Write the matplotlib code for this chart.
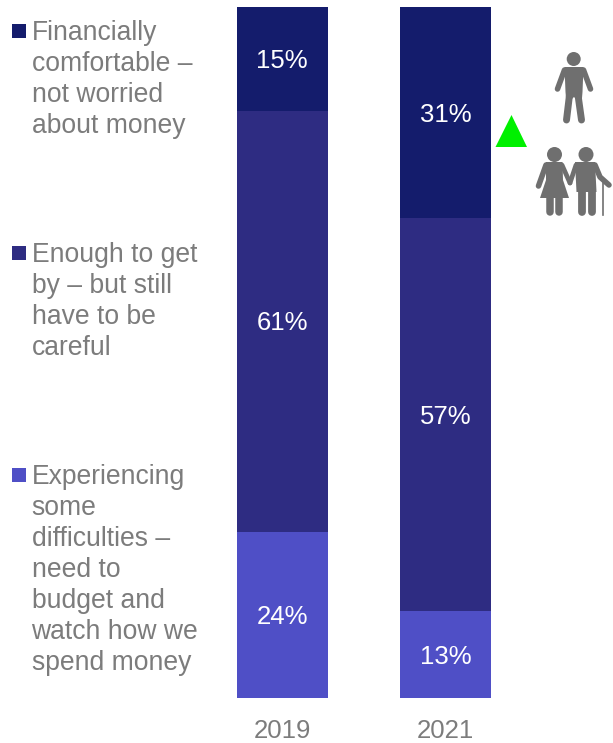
import matplotlib
matplotlib.use("Agg")
from matplotlib import pyplot as plt
from matplotlib.patches import Circle, Polygon, Rectangle

plt.rcParams['font.family'] = ['Liberation Sans', 'DejaVu Sans']

W, H = 613, 743
GREY = "#7c7c7c"
ICON = "#6f6f6f"

years = ["2019", "2021"]
comfortable = [15, 30.6]
enough = [61, 56.8]
difficulties = [24, 12.6]
comfortable_lab = ["15%", "31%"]
enough_lab = ["61%", "57%"]
difficulties_lab = ["24%", "13%"]
colors = ["#141c6c", "#2e2c82", "#4f4fc6"]
legend_text = ["Financially\ncomfortable –\nnot worried\nabout money",
               "Enough to get\nby – but still\nhave to be\ncareful",
               "Experiencing\nsome\ndifficulties –\nneed to\nbudget and\nwatch how we\nspend money"]
legend_y = [20, 242, 464]

fig = plt.figure(figsize=(W / 100, H / 100), dpi=100)

# overlay in pixel coords for legend and icons
ov = fig.add_axes([0, 0, 1, 1])
ov.set_xlim(0, W)
ov.set_ylim(H, 0)
ov.axis('off')

# bars
ax = fig.add_axes([200.5 / W, 1 - 698 / H, 327 / W, 691 / H])
ax.patch.set_alpha(0)
x = [0, 1]
series = [comfortable, enough, difficulties]
labels = [comfortable_lab, enough_lab, difficulties_lab]
bottom = [0, 0]
for vals, labs, col in zip(series, labels, colors):
    ax.bar(x, vals, bottom=bottom, width=0.555, color=col, linewidth=0)
    for i in x:
        ax.annotate(labs[i], (i, bottom[i] + vals[i] / 2), xytext=(0, -1.5), textcoords='offset points',
                    color="white", fontsize=18.5, ha='center', va='center')
    bottom = [b + v for b, v in zip(bottom, vals)]
ax.set_xlim(-0.5, 1.5)
ax.set_ylim(100, 0)
ax.set_yticks([])
ax.set_xticks(x)
ax.set_xticklabels(years, fontsize=18.5, color=GREY)
ax.tick_params(axis='x', length=0, pad=15)
for s in ax.spines.values():
    s.set_visible(False)

# legend
for txt, y, col in zip(legend_text, legend_y, colors):
    ov.text(31.5, y, txt, fontsize=19.1, color=GREY, va='top', ha='left', linespacing=1.253)
    ov.add_patch(Rectangle((12, y + 4), 14, 14, color=col, lw=0))

# green triangle
ov.add_patch(Polygon([(495.5, 147), (527, 147), (511.5, 115)], color="#00f000", lw=0))


def limb(xs, ys, w):
    ov.plot(xs, ys, color=ICON, lw=w, solid_capstyle='round', solid_joinstyle='round')


# single person
ov.add_patch(Circle((573.7, 59), 7, color=ICON, lw=0))
ov.add_patch(Polygon([(564.5, 67), (583.5, 67), (582.5, 92), (581.5, 104), (574, 97), (566.5, 104), (565.5, 92)],
                     color=ICON, lw=0))
limb([564.5, 557.5], [70, 89], 4)
limb([583.5, 590.5], [70, 89], 4)
limb([569.5, 566.5], [95, 120], 5)
limb([578, 581.5], [95, 120], 5)

# couple, woman
ov.add_patch(Circle((554.5, 154.5), 7.5, color=ICON, lw=0))
ov.add_patch(Polygon([(546, 162), (562.5, 162), (563, 180), (569, 198), (540, 198), (546, 180)],
                     color=ICON, lw=0))
limb([546, 538.5], [165, 186], 4)
limb([562, 570], [165, 183], 3.4)
limb([550, 550], [195, 212], 5.4)
limb([558.5, 558.5], [195, 212], 5.4)

# man
ov.add_patch(Circle((586, 154.5), 7.5, color=ICON, lw=0))
ov.add_patch(Polygon([(575, 162), (595, 162), (596.5, 192), (576.5, 192)], color=ICON, lw=0))
limb([576, 570], [165, 183], 3.4)
limb([595, 600, 609], [165, 177, 185], 4)
limb([581.5, 581.5], [190, 212], 5.6)
limb([591.5, 591.5], [190, 212], 5.6)
ov.plot([603.3, 603.3], [183, 215], color=ICON, lw=1.2)

fig.savefig("out.png", dpi=100)
